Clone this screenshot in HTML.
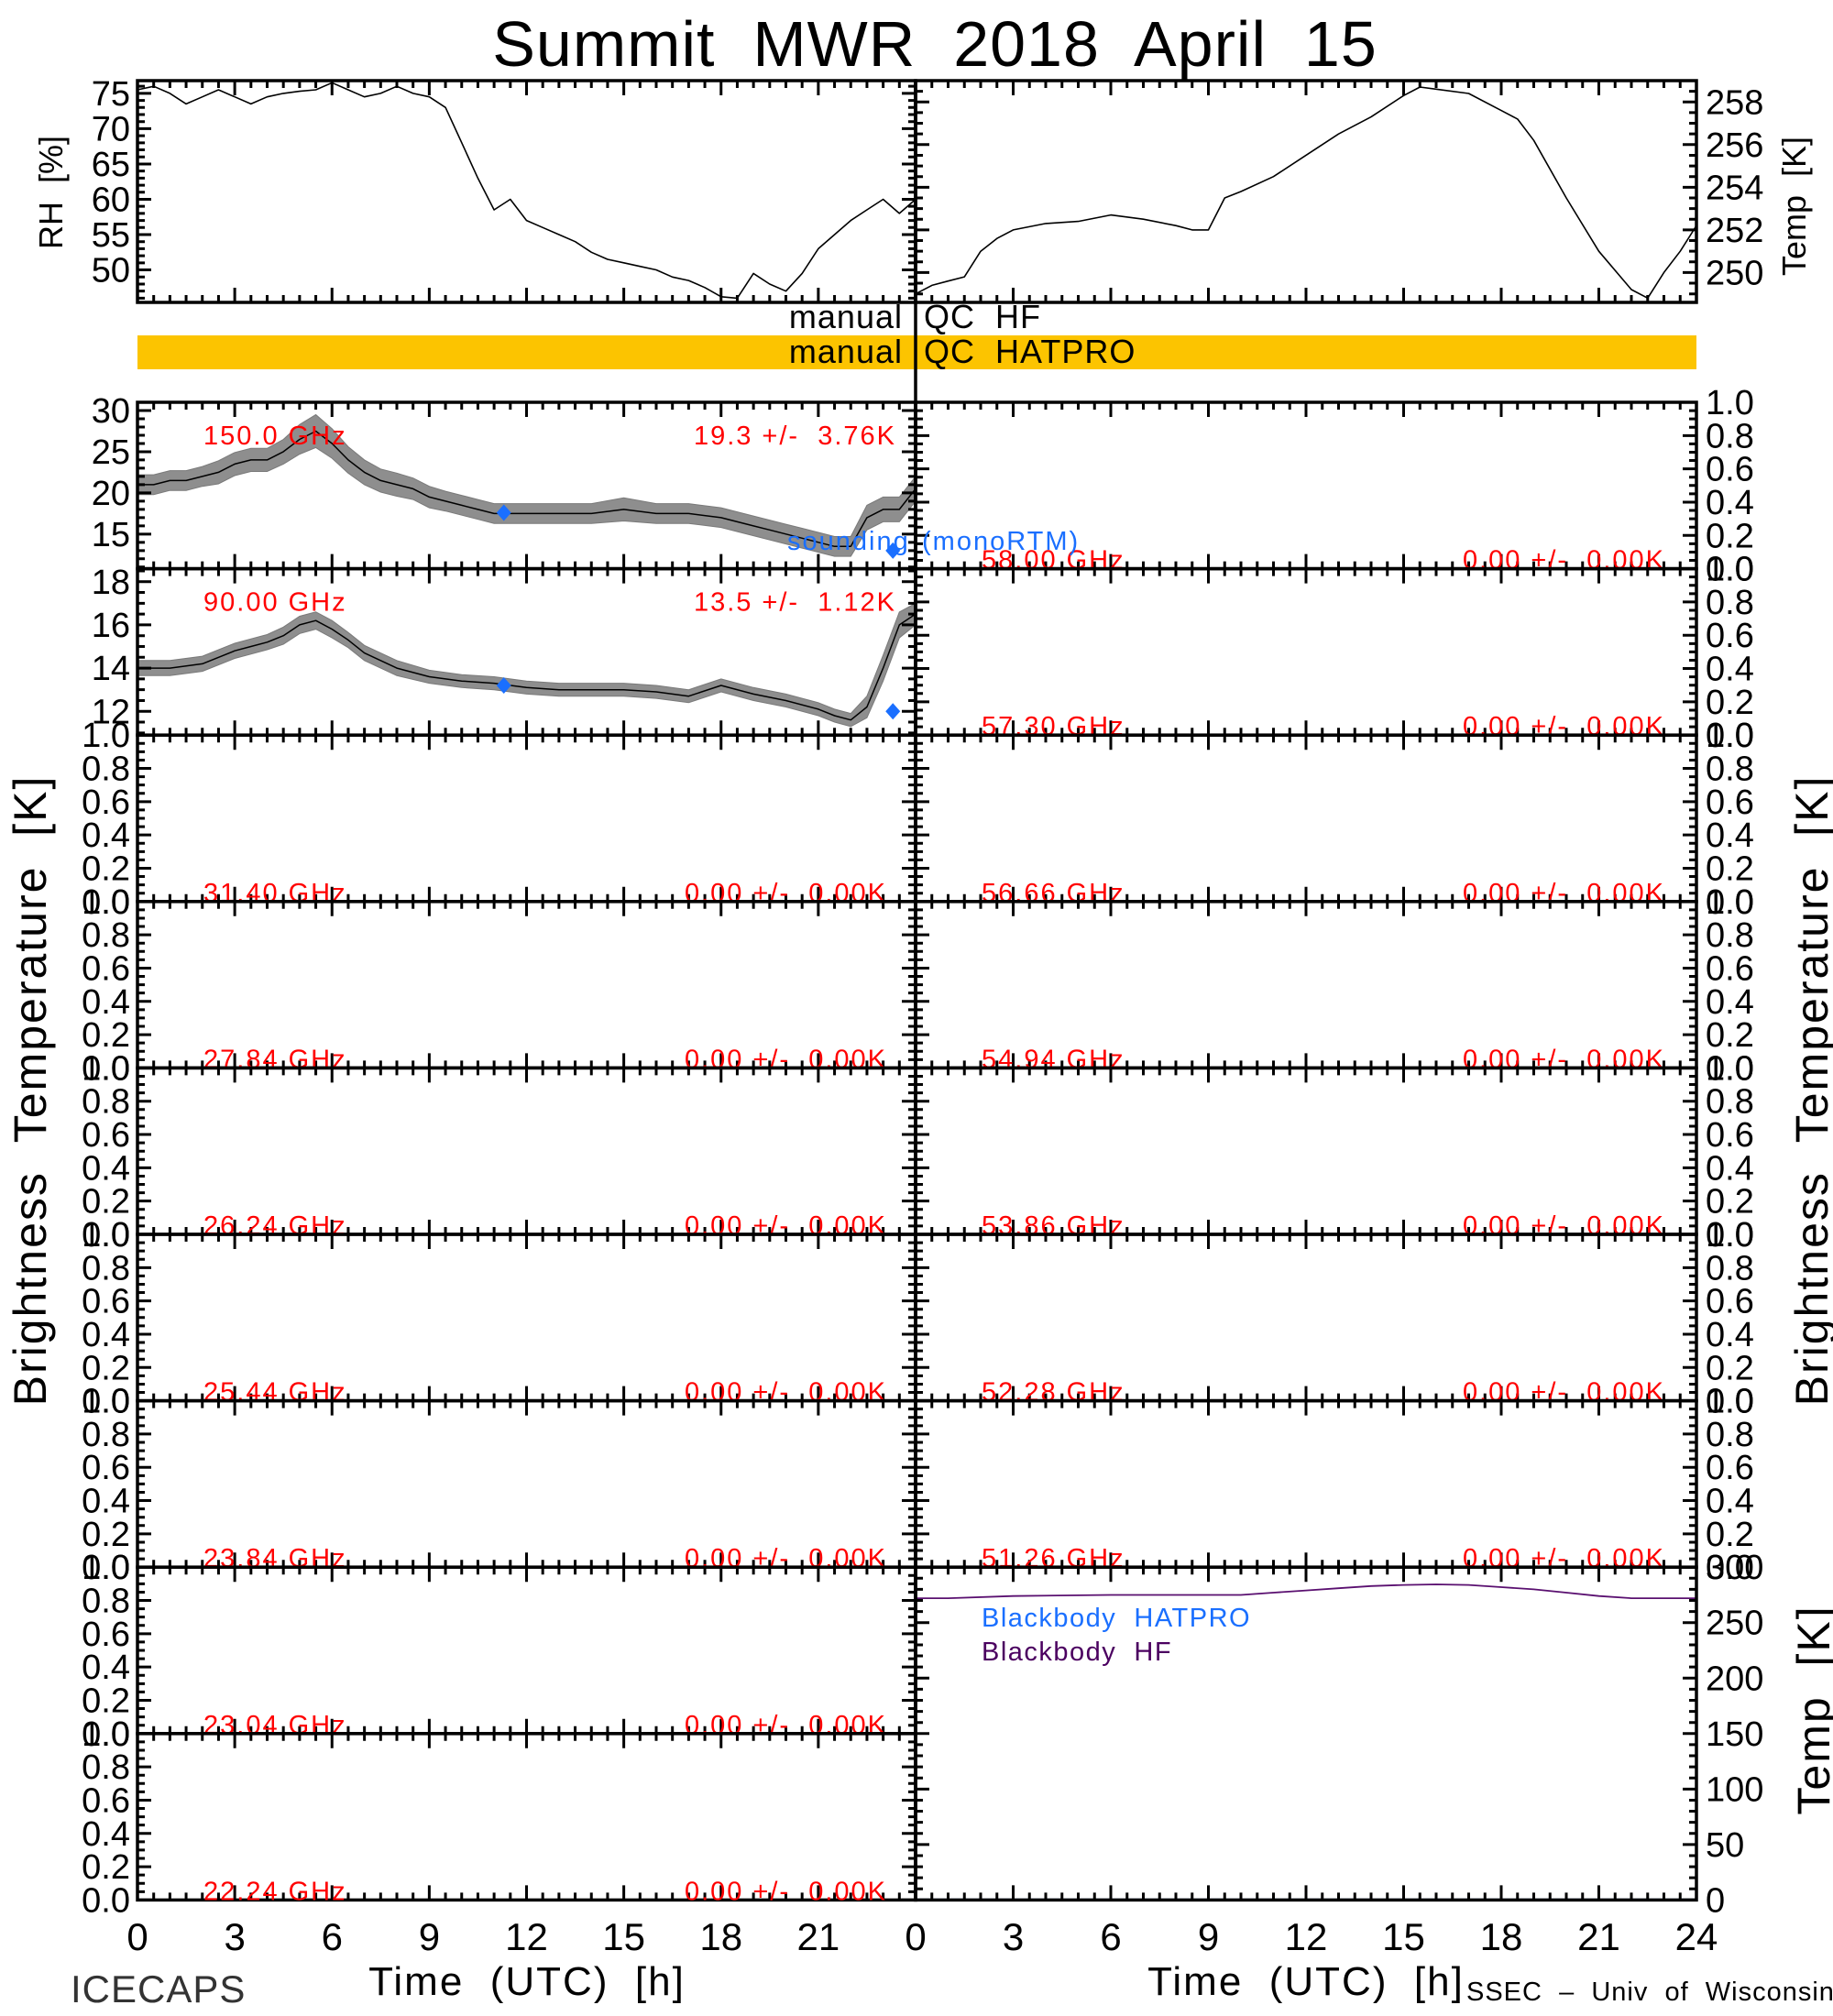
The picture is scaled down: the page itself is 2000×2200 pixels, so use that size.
<!DOCTYPE html>
<html><head><meta charset="utf-8"><style>
html,body{margin:0;padding:0;background:#fff;}
svg{display:block;}
text{font-family:"Liberation Sans Narrow","Liberation Sans",sans-serif;white-space:pre;}
</style></head><body>
<svg id="chart" width="2000" height="2200" viewBox="0 0 2000 2200" xmlns="http://www.w3.org/2000/svg">
<rect x="0" y="0" width="2000" height="2200" fill="#fff"/>
<text x="1020" y="72" font-size="70" text-anchor="middle" letter-spacing="1">Summit  MWR  2018  April  15</text>
<rect x="150" y="366" width="1701" height="37" fill="#fcc400"/>
<text x="985" y="358" font-size="36" text-anchor="end" letter-spacing="1">manual</text>
<text x="1008" y="358" font-size="36" letter-spacing="1">QC  HF</text>
<text x="985" y="396" font-size="36" text-anchor="end" letter-spacing="1">manual</text>
<text x="1008" y="396" font-size="36" letter-spacing="1">QC  HATPRO</text>
<text transform="translate(68,210) rotate(-90)" font-size="36" text-anchor="middle">RH  [%]</text>
<text transform="translate(1970,225) rotate(-90)" font-size="36" text-anchor="middle">Temp  [K]</text>
<text transform="translate(50,1190) rotate(-90)" font-size="50" text-anchor="middle" letter-spacing="2">Brightness  Temperature  [K]</text>
<text transform="translate(1994,1190) rotate(-90)" font-size="50" text-anchor="middle" letter-spacing="2">Brightness  Temperature  [K]</text>
<text transform="translate(1996,1866) rotate(-90)" font-size="50" text-anchor="middle" letter-spacing="2">Temp  [K]</text>
<text x="575" y="2177" font-size="44" text-anchor="middle" letter-spacing="2">Time  (UTC)  [h]</text>
<text x="1425" y="2177" font-size="44" text-anchor="middle" letter-spacing="2">Time  (UTC)  [h]</text>
<text x="77" y="2185" font-size="42" fill="#333" letter-spacing="1">ICECAPS</text>
<text x="1600" y="2183" font-size="29" letter-spacing="1">SSEC  –  Univ  of  Wisconsin</text>
<g id="layer"></g>
</svg>
<script>
// ---------- data ----------
const rhTime = [0,0.5,1,1.5,2,2.5,3,3.5,4,4.5,5,5.5,6,6.5,7,7.5,8,8.5,9,9.5,10,10.5,11,11.5,12,12.5,13,13.5,14,14.5,15,15.5,16,16.5,17,17.5,18,18.5,19,19.5,20,20.5,21,21.5,22,22.5,23,23.5,24];
const rhValues = [75.5,76,75,73.5,74.5,75.5,74.5,73.5,74.5,75,75.3,75.5,76.5,75.5,74.5,75,76,75,74.5,73,68,63,58.5,60,57,56,55,54,52.5,51.5,51,50.5,50,49,48.5,47.5,46.2,46,49.5,48,47,49.5,53,55,57,58.5,60,58,60];
const tempTime = [0,0.5,1,1.5,2,2.5,3,4,5,6,7,8,8.5,9,9.5,10,11,12,13,14,15,15.5,16,17,18,18.5,19,20,21,22,22.5,23,23.5,24];
const tempValues = [249,249.4,249.6,249.8,251,251.6,252,252.3,252.4,252.7,252.5,252.2,252,252,253.5,253.8,254.5,255.5,256.5,257.3,258.3,258.7,258.6,258.4,257.6,257.2,256.2,253.5,251,249.2,248.8,250,251,252.2];
const tb150Time = [0,0.5,1,1.5,2,2.5,3,3.5,4,4.5,5,5.5,6,6.5,7,7.5,8,8.5,9,9.5,10,10.5,11,12,13,14,15,16,17,18,18.5,19,19.5,20,20.5,21,21.5,22,22.5,23,23.5,24];
const tb150Values = [21,21,21.5,21.5,22,22.5,23.5,24,24,25,26.5,27.5,26,24,22.5,21.5,21,20.5,19.5,19,18.5,18,17.5,17.5,17.5,17.5,18,17.5,17.5,17,16.5,16,15.5,15,14.5,14,13.5,13.5,17,18,18,20.5];
const tb150Spread = [1.2,1.2,1.2,1.2,1.2,1.4,1.4,1.4,1.4,1.5,1.8,2,1.8,1.6,1.5,1.4,1.4,1.3,1.3,1.2,1.2,1.2,1.2,1.2,1.2,1.2,1.4,1.2,1.2,1.2,1.2,1.2,1.2,1.2,1.2,1.2,1.2,1.2,1.5,1.5,1.5,1.5];
const tb90Time = [0,1,2,3,3.5,4,4.5,5,5.5,6,6.5,7,8,9,10,11,12,13,14,15,16,17,18,19,20,21,21.5,22,22.5,23,23.5,24];
const tb90Values = [14,14,14.2,14.8,15,15.2,15.5,16,16.2,15.8,15.3,14.7,14,13.6,13.4,13.3,13.1,13,13,13,12.9,12.7,13.2,12.8,12.5,12.1,11.8,11.6,12.2,14,16,16.5];
const tb90Spread = [0.35,0.35,0.35,0.35,0.35,0.35,0.4,0.4,0.4,0.4,0.35,0.35,0.35,0.3,0.3,0.3,0.3,0.3,0.3,0.3,0.3,0.3,0.3,0.3,0.3,0.3,0.3,0.3,0.5,0.6,0.6,0.5];
const soundTime = [11.3,23.3];
const sound150 = [17.6,13];
const sound90 = [13.2,12.0];
const bbTime = [0,1,3,6,9,10,11,12,13,14,15,16,17,18,19,20,21,22,23,24];
const bbHF = [272,272,274,275,275,275,277,279,281,283,284,284.5,284,282,280,277,274,272,272,272];
const bbHATPRO = [0,0,0,0,0,0,0,0,0,0,0,0,0,0,0,0,0,0,0,0];
const leftFreqs = ["150.0 GHz","90.00 GHz","31.40 GHz","27.84 GHz","26.24 GHz","25.44 GHz","23.84 GHz","23.04 GHz","22.24 GHz"];
const leftStats = ["19.3 +/-  3.76K","13.5 +/-  1.12K","0.00 +/- 0.00K","0.00 +/- 0.00K","0.00 +/- 0.00K","0.00 +/- 0.00K","0.00 +/- 0.00K","0.00 +/- 0.00K","0.00 +/- 0.00K"];
const rightFreqs = ["58.00 GHz","57.30 GHz","56.66 GHz","54.94 GHz","53.86 GHz","52.28 GHz","51.26 GHz"];
const rightStats = ["0.00 +/- 0.00K","0.00 +/- 0.00K","0.00 +/- 0.00K","0.00 +/- 0.00K","0.00 +/- 0.00K","0.00 +/- 0.00K","0.00 +/- 0.00K"];
const xTickLabels = ["0","3","6","9","12","15","18","21","24"];

// ---------- layout ----------
const NS = "http://www.w3.org/2000/svg";
const layer = document.getElementById('layer');
const XL0=150, XM=999, XR1=1851;
const PT=439, RH=181.6;
function mk(tag, attrs){ const e=document.createElementNS(NS,tag); for(const k in attrs) e.setAttribute(k,attrs[k]); layer.appendChild(e); return e; }
function xs(x0,x1){ return t => x0 + t/24*(x1-x0); }
function ys(y0,y1,vmin,vmax){ return v => y1 - (v-vmin)/(vmax-vmin)*(y1-y0); }

function frame(x0,x1,y0,y1,vmin,vmax,major,minor,side,fmt,name,showLabels){
  const g = mk('g',{});
  
  
  let d='';
  for(let i=0;i<=48;i++){
    const t=i*0.5, x=x0+t/24*(x1-x0), L=(i%6===0)?16:8;
    d+=`M${x} ${y0}v${L}M${x} ${y1}v${-L}`;
  }
  const y=ys(y0,y1,vmin,vmax);
  const first=Math.ceil(vmin/minor-1e-6)*minor;
  for(let v=first; v<=vmax+1e-6; v+=minor){
    const yy=y(v), isMaj=Math.abs(v/major-Math.round(v/major))<1e-6, L=isMaj?15:8;
    d+=`M${x0} ${yy}h${L}M${x1} ${yy}h${-L}`;
  }
  const p=document.createElementNS(NS,'path');
  p.setAttribute('d',d); p.setAttribute('stroke','#000'); p.setAttribute('stroke-width','3'); p.setAttribute('fill','none');
  g.appendChild(p);
  const r=document.createElementNS(NS,'rect');
  r.setAttribute('x',x0); r.setAttribute('y',y0); r.setAttribute('width',x1-x0); r.setAttribute('height',y1-y0);
  r.setAttribute('fill','none'); r.setAttribute('stroke','#000'); r.setAttribute('stroke-width','3.5');
  g.appendChild(r);
  if(showLabels){
    const firstM=Math.ceil(vmin/major-1e-6)*major;
    for(let v=firstM; v<=vmax+1e-6; v+=major){
      const t=document.createElementNS(NS,'text');
      t.setAttribute('x', side==='left'? x0-8 : x1+10);
      t.setAttribute('y', y(v)+13);
      t.setAttribute('font-size','38');
      t.setAttribute('text-anchor', side==='left'?'end':'start');
      
      
      t.textContent=fmt(v);
      g.appendChild(t);
    }
  }
  return g;
}
function line(xf,yf,ts,vs,color,w,name){
  let d='';
  ts.forEach((t,i)=>{ d+=(i?'L':'M')+xf(t).toFixed(1)+' '+yf(vs[i]).toFixed(1); });
  const p=mk('path',{d:d,fill:'none',stroke:color,'stroke-width':w,'stroke-linejoin':'round'});
  
  
  return p;
}
function band(xf,yf,ts,vs,sp,name){
  let d='';
  ts.forEach((t,i)=>{ d+=(i?'L':'M')+xf(t).toFixed(1)+' '+yf(vs[i]+sp[i]).toFixed(1); });
  for(let i=ts.length-1;i>=0;i--) d+='L'+xf(ts[i]).toFixed(1)+' '+yf(vs[i]-sp[i]).toFixed(1);
  d+='Z';
  const p=mk('path',{d:d,fill:'#444',stroke:'#222','stroke-width':1,opacity:0.6});
  
  
  return p;
}
function diamonds(xf,yf,ts,vs,name){
  ts.forEach((t,i)=>{
    const x=xf(t), y=yf(vs[i]);
    const p=mk('path',{d:`M${x} ${y-9}L${x+8} ${y}L${x} ${y+9}L${x-8} ${y}Z`,fill:'#1a6fff'});
    
    
  });
}
function redText(x,y,s,anchor,name){
  const t=mk('text',{x:x,y:y,'font-size':29,fill:'#ff0000','text-anchor':anchor,'letter-spacing':2});
  
  
  t.textContent=s;
}
const f1=v=>v.toFixed(1), f0=v=>String(Math.round(v));

const RHY0=88, RHY1=330;
const rhX=xs(XL0,XM), rhY=ys(RHY0,RHY1,45.4,76.8);
line(rhX,rhY,rhTime,rhValues,'#000',1.6,'rh-line');
frame(XL0,XM,RHY0,RHY1,45.4,76.8,5,1,'left',f0,'rh-panel',true);
const tX=xs(XM,XR1), tY=ys(RHY0,RHY1,248.6,259.0);
line(tX,tY,tempTime,tempValues,'#000',1.6,'temp-line');
frame(XM,XR1,RHY0,RHY1,248.6,259.0,2,0.5,'right',f0,'temp-panel',true);

const lX=xs(XL0,XM), rX=xs(XM,XR1);
for(let i=0;i<9;i++){
  const y0=PT+i*RH, y1=y0+RH;
  if(i===0){
    const yf=ys(y0,y1,10.8,31);
    band(lX,yf,tb150Time,tb150Values,tb150Spread,'tb-150-noise');
    line(lX,yf,tb150Time,tb150Values,'#000',1.5,'tb-150-line');
    diamonds(lX,yf,soundTime,sound150,'sounding-150');
    frame(XL0,XM,y0,y1,10.8,31,5,1,'left',f0,'panel-150ghz',true);
    redText(222,y0+46,leftFreqs[i],'start','freq-label-150');
    redText(978,y0+46,leftStats[i],'end','stat-label-150');
  } else if(i===1){
    const yf=ys(y0,y1,10.9,18.6);
    band(lX,yf,tb90Time,tb90Values,tb90Spread,'tb-90-noise');
    line(lX,yf,tb90Time,tb90Values,'#000',1.5,'tb-90-line');
    diamonds(lX,yf,soundTime,sound90,'sounding-90');
    frame(XL0,XM,y0,y1,10.9,18.6,2,0.5,'left',f0,'panel-90ghz',true);
    redText(222,y0+46,leftFreqs[i],'start','freq-label-90');
    redText(978,y0+46,leftStats[i],'end','stat-label-90');
  } else {
    frame(XL0,XM,y0,y1,0,1,0.2,0.05,'left',f1,'panel-left-'+i,true);
    redText(222,y1,leftFreqs[i],'start','freq-label-left');
    redText(968,y1,leftStats[i].replace(' 0.00K','  0.00K'),'end','stat-label-left');
  }
  if(i<7){
    frame(XM,XR1,y0,y1,0,1,0.2,0.05,'right',f1,'panel-right-'+i,true);
    redText(1071,y1,rightFreqs[i],'start','freq-label-right');
    redText(1817,y1,rightStats[i].replace(' 0.00K','  0.00K'),'end','stat-label-right');
  }
}
const s1=mk('text',{x:859,y:600,'font-size':29,fill:'#1a6fff','letter-spacing':2}); s1.textContent='sounding';


const s2=mk('text',{x:1006,y:600,'font-size':29,fill:'#1a6fff','letter-spacing':2}); s2.textContent='(monoRTM)';



const BBY0=PT+7*RH, BBY1=PT+9*RH;
const bbY=ys(BBY0,BBY1,0,300);
line(rX,bbY,bbTime,bbHATPRO,'#1a6fff',3,'blackbody-hatpro-line');
line(rX,bbY,bbTime,bbHF,'#5a1070',1.8,'blackbody-hf-line');
frame(XM,XR1,BBY0,BBY1,0,300,50,10,'right',f0,'blackbody-panel',true);
const b1=mk('text',{x:1071,y:1775,'font-size':29,fill:'#1a6fff','letter-spacing':1.5}); b1.textContent='Blackbody  HATPRO';


const b2=mk('text',{x:1071,y:1812,'font-size':29,fill:'#4b0060','letter-spacing':1.5}); b2.textContent='Blackbody  HF';



const dv=mk('line',{x1:XM,y1:RHY0,x2:XM,y2:BBY1,stroke:'#000','stroke-width':3.5});



xTickLabels.forEach((s,i)=>{
  if(i<8){
    const t=mk('text',{x:lX(i*3),y:2128,'font-size':42,'text-anchor':'middle'}); t.textContent=s;
    
    
  }
  if(i>0){
    const t=mk('text',{x:rX(i*3),y:2128,'font-size':42,'text-anchor':'middle'}); t.textContent=s;
    
    
  }
});
const t0=mk('text',{x:XM,y:2128,'font-size':42,'text-anchor':'middle'}); t0.textContent='0';


</script>
</body></html>
